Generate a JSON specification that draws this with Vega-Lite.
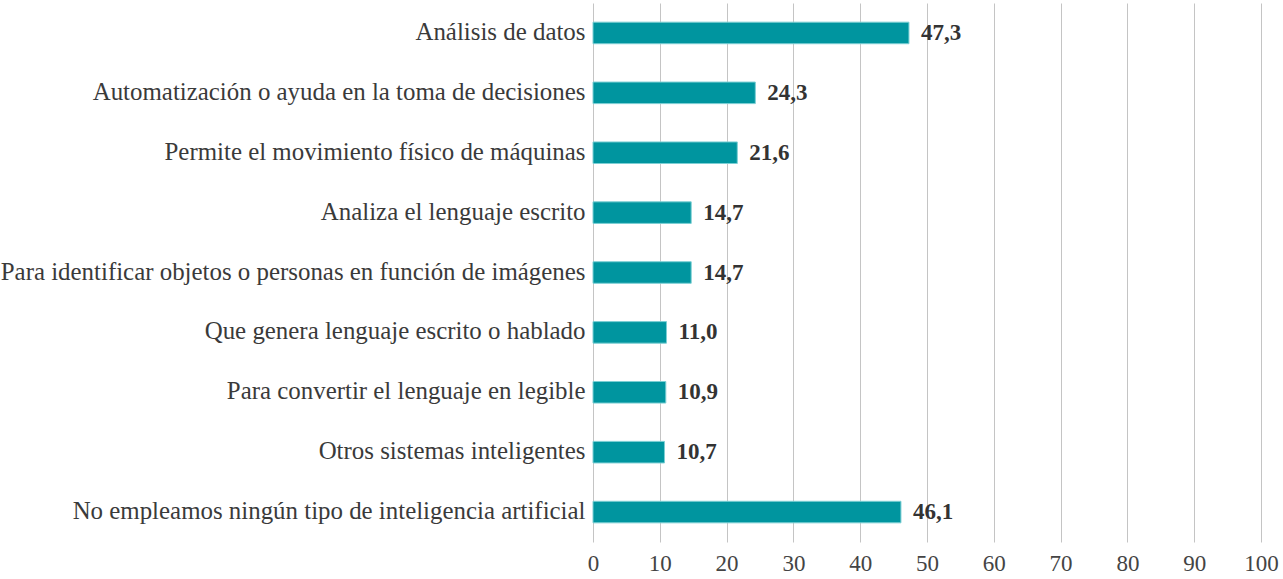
{
  "$schema": "https://vega.github.io/schema/vega-lite/v6.json",
  "autosize": {"type": "none"},
  "padding": {"left": 593, "top": 3, "right": 22, "bottom": 37},
  "width": 668,
  "height": 539,
  "background": "white",
  "config": {"view": {"stroke": null}, "font": "Liberation Serif"},
  "data": {"values": [
    {"cat": "Análisis de datos", "v": 47.3, "lbl": "47,3"},
    {"cat": "Automatización o ayuda en la toma de decisiones", "v": 24.3, "lbl": "24,3"},
    {"cat": "Permite el movimiento físico de máquinas", "v": 21.6, "lbl": "21,6"},
    {"cat": "Analiza el lenguaje escrito", "v": 14.7, "lbl": "14,7"},
    {"cat": "Para identificar objetos o personas en función de imágenes", "v": 14.7, "lbl": "14,7"},
    {"cat": "Que genera lenguaje escrito o hablado", "v": 11.0, "lbl": "11,0"},
    {"cat": "Para convertir el lenguaje en legible", "v": 10.9, "lbl": "10,9"},
    {"cat": "Otros sistemas inteligentes", "v": 10.7, "lbl": "10,7"},
    {"cat": "No empleamos ningún tipo de inteligencia artificial", "v": 46.1, "lbl": "46,1"}
  ]},
  "encoding": {
    "y": {"field": "cat", "type": "nominal", "sort": null,
      "scale": {"paddingInner": 0.64, "paddingOuter": 0.32},
      "axis": {"title": null, "domain": false, "ticks": false, "labelFontSize": 24.9, "labelColor": "#3a3a3a", "labelPadding": 8, "labelFont": "Liberation Serif", "labelLimit": 700}},
    "x": {"field": "v", "type": "quantitative",
      "scale": {"domain": [0, 100], "nice": false},
      "axis": {"title": null, "domain": false, "ticks": false, "values": [0,10,20,30,40,50,60,70,80,90,100], "labelOverlap": false, "labelFlush": false, "grid": true, "gridColor": "#c4c4c4", "gridWidth": 1, "labelFontSize": 23, "labelColor": "#444444", "labelPadding": 10, "labelFont": "Liberation Serif"}}
  },
  "layer": [
    {"mark": {"type": "bar", "color": "#00959f", "stroke": "#7ccfd4", "strokeWidth": 1}},
    {"mark": {"type": "text", "align": "left", "baseline": "middle", "dx": 12, "fontSize": 23, "fontWeight": "bold", "color": "#333333", "font": "Liberation Serif"},
      "encoding": {"text": {"field": "lbl"}}}
  ]
}
